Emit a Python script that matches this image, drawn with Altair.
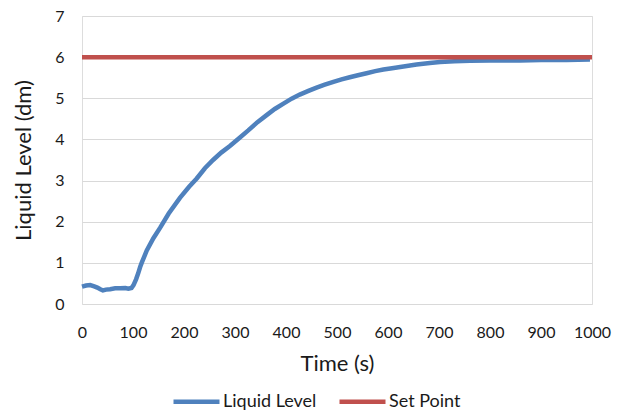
import altair as alt
import pandas as pd

level_t = [0, 8, 16, 24, 30, 36, 41, 47, 55, 65, 75, 85, 91, 97, 101, 106, 110, 114, 117,
           127, 140, 153, 170, 192, 210, 225, 241, 257, 273, 290, 308, 326, 344, 362, 378,
           395, 411, 427, 444, 460, 476, 493, 509, 525, 541, 558, 575, 591, 608, 624, 640,
           656, 682, 702, 730, 761, 800, 859, 900, 950, 996]
level_v = [0.42, 0.45, 0.46, 0.43, 0.40, 0.36, 0.33, 0.35, 0.36, 0.38, 0.38, 0.39, 0.37, 0.39,
           0.46, 0.60, 0.74, 0.90, 1.00, 1.30, 1.60, 1.85, 2.20, 2.58, 2.85, 3.05, 3.30, 3.50,
           3.68, 3.84, 4.03, 4.22, 4.42, 4.59, 4.74, 4.87, 4.99, 5.09, 5.18, 5.26, 5.33, 5.40,
           5.46, 5.51, 5.56, 5.61, 5.66, 5.70, 5.73, 5.76, 5.79, 5.82, 5.86, 5.88, 5.90, 5.91,
           5.92, 5.92, 5.93, 5.93, 5.94]
set_t = [0, 1000]
set_v = [6, 6]

series_names = ["Liquid Level", "Set Point"]
series_colors = ["#4F81BD", "#C0504D"]

df = pd.concat([
    pd.DataFrame({"t": level_t, "v": level_v, "s": series_names[0], "o": range(len(level_t))}),
    pd.DataFrame({"t": set_t, "v": set_v, "s": series_names[1], "o": range(len(set_t))}),
])

FONT = "Lato"
TXT = "#1a1a1a"

chart = alt.Chart(df).mark_line(strokeWidth=4.5).encode(
    x=alt.X("t:Q", scale=alt.Scale(domain=[0, 1000], nice=False),
            axis=alt.Axis(title="Time (s)", values=list(range(0, 1001, 100)), format="d",
                          grid=False, domain=False, ticks=False, tickSize=0,
                          labelPadding=20, labelFontSize=16, titleFontSize=22,
                          titleFontWeight="normal", titlePadding=13,
                          labelFont=FONT, titleFont=FONT,
                          labelColor=TXT, titleColor=TXT, labelFlush=False)),
    y=alt.Y("v:Q", scale=alt.Scale(domain=[0, 7], nice=False),
            axis=alt.Axis(title="Liquid Level (dm)", values=list(range(0, 8)),
                          grid=True, gridColor="#D9D9D9", gridWidth=1.2,
                          domain=False, ticks=False, tickSize=0,
                          labelPadding=18, labelFontSize=16, titleFontSize=22,
                          titleFontWeight="normal", titlePadding=19,
                          labelFont=FONT, titleFont=FONT,
                          labelColor=TXT, titleColor=TXT)),
    color=alt.Color("s:N", scale=alt.Scale(domain=series_names, range=series_colors),
                    legend=alt.Legend(title=None, orient="none", direction="horizontal",
                                      legendX=171 - 82, legendY=399 - 23 - 16,
                                      symbolType="stroke", symbolSize=2116,
                                      symbolStrokeWidth=4.5, labelFontSize=18,
                                      labelFont=FONT, labelColor=TXT, labelOffset=1,
                                      columnPadding=13)),
    order="o:Q",
).properties(
    width=510, height=288,
    autosize=alt.AutoSizeParams(type="none"),
    padding={"left": 82, "top": 16, "right": 27, "bottom": 108},
).configure_view(stroke=None).configure(background="white")

chart.save("out.html", embed_options={"renderer": "svg", "actions": False})
